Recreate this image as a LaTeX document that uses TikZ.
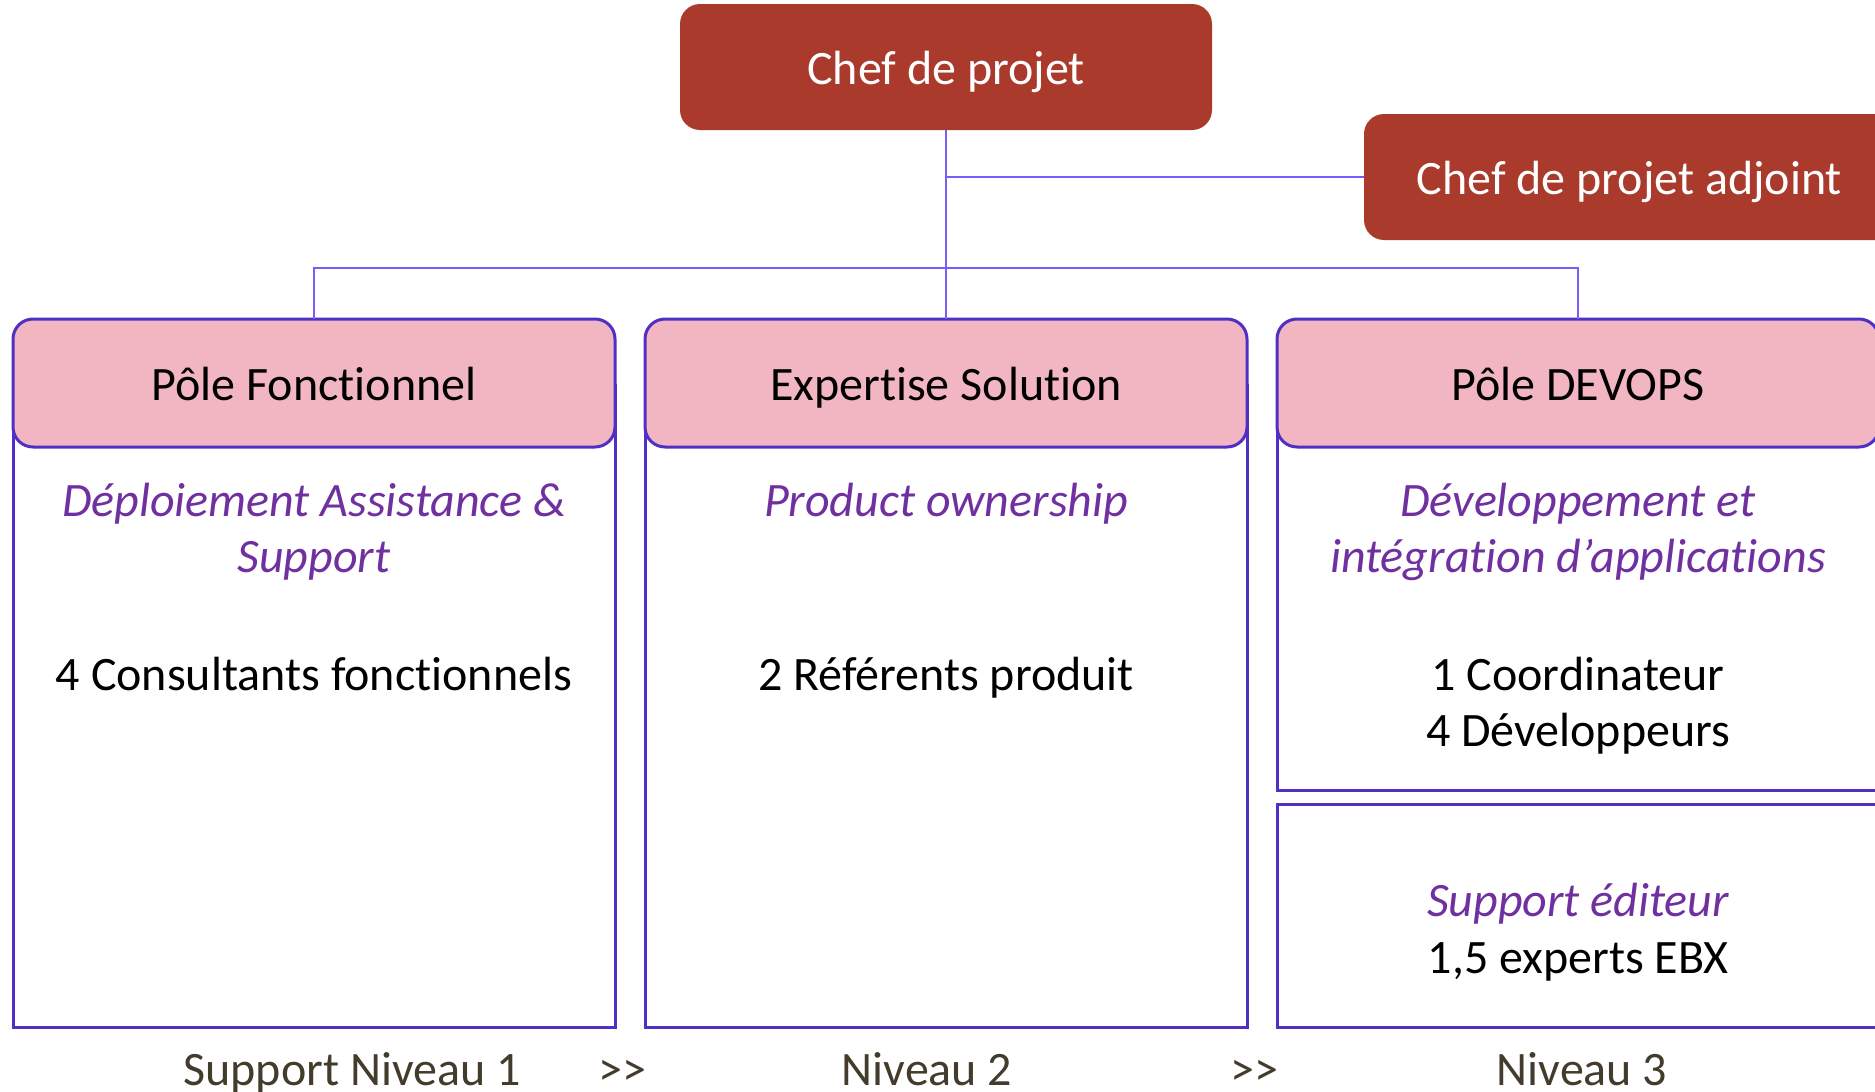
\documentclass[tikz,border=0pt]{standalone}
\usepackage{fontspec}
\setmainfont[Ligatures={NoCommon,NoContextual,NoRare}, Contextuals=NoAlternate]{Carlito}
\definecolor{chefred}{HTML}{A93A2C}
\definecolor{polepink}{HTML}{F2B5C2}
\definecolor{boxpurple}{HTML}{5030C4}
\definecolor{linepurple}{HTML}{7A5CFA}
\definecolor{itpurple}{HTML}{7030A0}
\definecolor{levelbrown}{HTML}{433C2C}
\begin{document}
\begin{tikzpicture}[x=1pt,y=-1pt,
  every node/.style={font=\fontsize{48}{56}\selectfont, inner sep=0pt, outer sep=0pt},
  chefbox/.style={fill=chefred, rounded corners=20pt, text=white, minimum height=126pt, minimum width=532pt, text height=40pt, text depth=6pt},
  headbox/.style={fill=polepink, draw=boxpurple, line width=3pt, rounded corners=20pt, minimum width=602pt, minimum height=128pt, text=black, text height=40pt, text depth=6pt},
  bodybox/.style={draw=boxpurple, line width=3pt, minimum width=602pt},
  conn/.style={draw=linepurple, line width=2pt},
  role/.style={anchor=base, text=itpurple, font=\fontsize{48}{56}\selectfont\itshape},
  staff/.style={anchor=base, text=black},
  level/.style={anchor=base, text=levelbrown}]
\useasboundingbox (0,0) rectangle (1875,1092);
\clip (0,0) rectangle (1875,1092);
% body boxes
\node[bodybox, minimum height=642pt] (bfon) at (314,706) {};
\node[bodybox, minimum height=642pt] (bexp) at (946,706) {};
\node[bodybox, minimum height=405pt] (bdev) at (1578,587.5) {};
\node[bodybox, minimum height=223pt] (bsup) at (1578,915.5) {};
% headers
\node[headbox] (hfon) at (314,383) {Pôle Fonctionnel};
\node[headbox] (hexp) at (946,383) {Expertise Solution};
\node[headbox] (hdev) at (1578,383) {Pôle DEVOPS};
% chefs
\node[chefbox] (chef) at (946,67) {Chef de projet};
\node[chefbox, minimum width=531pt] (adj) at (1629.5,177) {Chef de projet adjoint};
% connectors
\coordinate (bus) at (946,268);
\draw[conn] (chef.south) -- (hexp.north);
\draw[conn] (chef.south |- adj.west) -- (adj.west);
\draw[conn] (hfon.north) -- (hfon.north |- bus) -- (hdev.north |- bus) -- (hdev.north);
% column texts
\node[role] (rfon1) at (314,516) {Déploiement Assistance \&};
\node[role] (rfon2) at (314,572) {Support};
\node[staff] (sfon) at (314,690) {4 Consultants fonctionnels};
\node[role] (rexp) at (946,516) {Product ownership};
\node[staff] (sexp) at (946,690) {2 Référents produit};
\node[role] (rdev1) at (1578,516) {Développement et};
\node[role] (rdev2) at (1578,572) {intégration d’applications};
\node[staff] (sdev1) at (1578,690) {1 Coordinateur};
\node[staff] (sdev2) at (1578,746) {4 Développeurs};
\node[role] (rsup) at (1578,916) {Support éditeur};
\node[staff] (ssup) at (1578,973) {1,5 experts EBX};
% levels
\node[level] (l1) at (352,1085) {Support Niveau 1};
\node[level] (a1) at (622,1085) {>{}>};
\node[level] (l2) at (927,1085) {Niveau 2};
\node[level] (a2) at (1254,1085) {>{}>};
\node[level] (l3) at (1582,1085) {Niveau 3};
\end{tikzpicture}
\end{document}
